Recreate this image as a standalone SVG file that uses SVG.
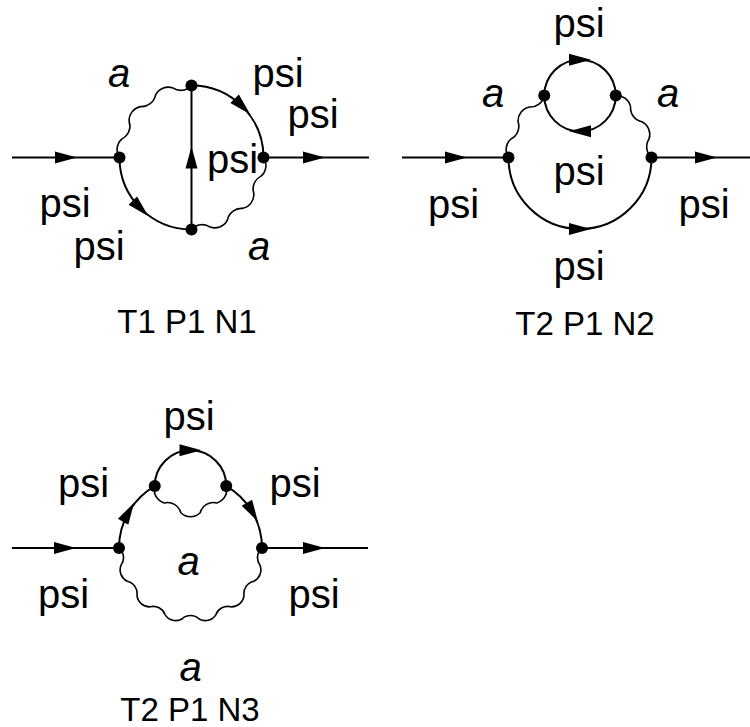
<svg xmlns="http://www.w3.org/2000/svg" xmlns:xlink="http://www.w3.org/1999/xlink" width="750" height="727" viewBox="0 0 750 727">
<style>
.f{fill:none;stroke:#000;stroke-width:2}
.w{fill:none;stroke:#000;stroke-width:1.6}
.v{fill:#000}
.t{font-family:"Liberation Sans",Arial,sans-serif;font-size:40px;fill:#000;text-anchor:middle}
.i{font-style:italic}
.c{font-family:"Liberation Sans",Arial,sans-serif;font-size:33px;fill:#000;text-anchor:middle}
</style>
<defs>
<path id="arr" d="M-11,-6 L11,0 L-11,6 Z" fill="#000"/>
</defs>
<rect width="750" height="727" fill="#fff"/>
<g id="connectors">
<!-- diagram 1 -->
<path class="f" d="M12,157.5 H119.5"/>
<path class="f" d="M263.5,157.5 H369"/>
<path class="f" d="M191.5,85.5 A72,72 0 0 1 263.5,157.5"/>
<path class="f" d="M119.5,157.5 A72,72 0 0 0 191.5,229.5"/>
<path class="f" d="M191.5,229.5 V85.5"/>
<path class="w" d="M119.5,157.5 A14.2,14.2 0 0 1 121.95,138.87 A14.2,14.2 0 0 0 129.15,121.5 A14.2,14.2 0 0 1 140.59,106.59 A14.2,14.2 0 0 0 155.5,95.15 A14.2,14.2 0 0 1 172.87,87.95 A14.2,14.2 0 0 0 191.5,85.5"/>
<path class="w" d="M263.5,157.5 A14.2,14.2 0 0 1 261.05,176.13 A14.2,14.2 0 0 0 253.85,193.5 A14.2,14.2 0 0 1 242.41,208.41 A14.2,14.2 0 0 0 227.5,219.85 A14.2,14.2 0 0 1 210.13,227.05 A14.2,14.2 0 0 0 191.5,229.5"/>
<use xlink:href="#arr" transform="translate(66,157.5)"/>
<use xlink:href="#arr" transform="translate(314,157.5)"/>
<use xlink:href="#arr" transform="translate(242.41,106.59) rotate(45)"/>
<use xlink:href="#arr" transform="translate(140.59,208.41) rotate(45)"/>
<use xlink:href="#arr" transform="translate(191.5,157.5) rotate(-90)"/>
<!-- diagram 2 -->
<path class="f" d="M402,157.5 H508.5"/>
<path class="f" d="M651.5,157.5 H750"/>
<path class="f" d="M508.5,157.5 A71.5,71.5 0 0 0 651.5,157.5"/>
<path class="f" d="M544.25,95.58 A35.75,35.75 0 0 1 615.75,95.58"/>
<path class="f" d="M615.75,95.58 A35.75,35.75 0 0 1 544.25,95.58"/>
<path class="w" d="M508.5,157.5 A14.2,14.2 0 0 1 510.94,138.99 A14.2,14.2 0 0 0 518.08,121.75 A14.2,14.2 0 0 1 529.44,106.94 A14.2,14.2 0 0 0 544.25,95.58"/>
<path class="w" d="M615.75,95.58 A14.2,14.2 0 0 1 630.56,106.94 A14.2,14.2 0 0 0 641.92,121.75 A14.2,14.2 0 0 1 649.06,138.99 A14.2,14.2 0 0 0 651.5,157.5"/>
<use xlink:href="#arr" transform="translate(456,157.5)"/>
<use xlink:href="#arr" transform="translate(706,157.5)"/>
<use xlink:href="#arr" transform="translate(580,229)"/>
<use xlink:href="#arr" transform="translate(580,59.83)"/>
<use xlink:href="#arr" transform="translate(580,131.33) rotate(180)"/>
<!-- diagram 3 -->
<path class="f" d="M12,548 H119"/>
<path class="f" d="M262,548 H368"/>
<path class="f" d="M154.75,486.08 A35.75,35.75 0 0 1 226.25,486.08"/>
<path class="f" d="M119,548 A71.5,71.5 0 0 1 154.75,486.08"/>
<path class="f" d="M226.25,486.08 A71.5,71.5 0 0 1 262,548"/>
<path class="w" d="M119,548 A12.6,12.6 0 0 1 121.08,565.11 A12.6,12.6 0 0 0 127.19,581.23 A12.6,12.6 0 0 1 136.98,595.41 A12.6,12.6 0 0 0 149.88,606.84 A12.6,12.6 0 0 1 165.15,614.85 A12.6,12.6 0 0 0 181.88,618.98 A12.6,12.6 0 0 1 199.12,618.98 A12.6,12.6 0 0 0 215.85,614.85 A12.6,12.6 0 0 1 231.12,606.84 A12.6,12.6 0 0 0 244.02,595.41 A12.6,12.6 0 0 1 253.81,581.23 A12.6,12.6 0 0 0 259.92,565.11 A12.6,12.6 0 0 1 262,548"/>
<path class="w" d="M154.75,486.08 A13.7,13.7 0 0 0 164.2,502.94 A13.7,13.7 0 0 1 180.84,512.71 A13.7,13.7 0 0 0 200.16,512.71 A13.7,13.7 0 0 1 216.8,502.94 A13.7,13.7 0 0 0 226.25,486.08"/>
<use xlink:href="#arr" transform="translate(65,548)"/>
<use xlink:href="#arr" transform="translate(314,548)"/>
<use xlink:href="#arr" transform="translate(190.5,450.33)"/>
<use xlink:href="#arr" transform="translate(128.58,512.25) rotate(-60)"/>
<use xlink:href="#arr" transform="translate(252.42,512.25) rotate(60)"/>
</g>
<g id="d1-v1"><circle class="v" cx="119.5" cy="157.5" r="6"/></g>
<g id="d1-v2"><circle class="v" cx="263.5" cy="157.5" r="6"/></g>
<g id="d1-v3"><circle class="v" cx="191.5" cy="85.5" r="6"/></g>
<g id="d1-v4"><circle class="v" cx="191.5" cy="229.5" r="6"/></g>
<g id="d2-v1"><circle class="v" cx="508.5" cy="157.5" r="6"/></g>
<g id="d2-v2"><circle class="v" cx="651.5" cy="157.5" r="6"/></g>
<g id="d2-v3"><circle class="v" cx="544.25" cy="95.58" r="6"/></g>
<g id="d2-v4"><circle class="v" cx="615.75" cy="95.58" r="6"/></g>
<g id="d3-v1"><circle class="v" cx="119" cy="548" r="6"/></g>
<g id="d3-v2"><circle class="v" cx="262" cy="548" r="6"/></g>
<g id="d3-v3"><circle class="v" cx="154.75" cy="486.08" r="6"/></g>
<g id="d3-v4"><circle class="v" cx="226.25" cy="486.08" r="6"/></g>
<g id="labels">
<text class="t i" x="119" y="87">a</text>
<text class="t" x="278" y="87">psi</text>
<text class="t" x="313" y="128">psi</text>
<text class="t" x="232.5" y="173">psi</text>
<text class="t" x="65" y="217">psi</text>
<text class="t" x="99" y="260">psi</text>
<text class="t i" x="259" y="260">a</text>
<text class="c" x="187" y="333">T1 P1 N1</text>
<text class="t" x="579" y="37">psi</text>
<text class="t i" x="493" y="107">a</text>
<text class="t i" x="668" y="107">a</text>
<text class="t" x="579" y="185">psi</text>
<text class="t" x="453.5" y="218">psi</text>
<text class="t" x="704" y="218">psi</text>
<text class="t" x="579" y="280">psi</text>
<text class="c" x="585" y="335">T2 P1 N2</text>
<text class="t" x="189" y="430">psi</text>
<text class="t" x="83.5" y="497">psi</text>
<text class="t" x="295" y="497">psi</text>
<text class="t i" x="188.5" y="575">a</text>
<text class="t" x="63.5" y="608">psi</text>
<text class="t" x="314" y="608">psi</text>
<text class="t i" x="190.5" y="681">a</text>
<text class="c" x="190" y="721">T2 P1 N3</text>
</g>
</svg>
